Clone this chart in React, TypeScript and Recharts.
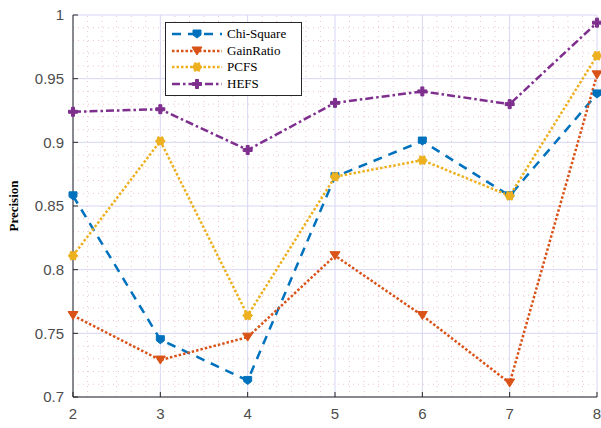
import React from 'react'
import { LineChart, Line, XAxis, YAxis, CartesianGrid, ReferenceLine } from 'recharts'

const xValues = [2, 3, 4, 5, 6, 7, 8]
const chiSquare = [0.858, 0.745, 0.713, 0.873, 0.901, 0.858, 0.938]
const gainRatio = [0.764, 0.729, 0.747, 0.811, 0.764, 0.711, 0.953]
const pcfs = [0.811, 0.901, 0.764, 0.873, 0.886, 0.858, 0.968]
const hefs = [0.924, 0.926, 0.894, 0.931, 0.94, 0.93, 0.994]

const xTicks = [2, 3, 4, 5, 6, 7, 8]
const yTicks = [0.7, 0.75, 0.8, 0.85, 0.9, 0.95, 1]
const xMinor = xTicks.slice(0, -1).flatMap((t) => [1, 2, 3, 4, 5].map((k) => t + k / 6))
const yMinor = Array.from({ length: 31 }, (_, i) => Math.round((0.7 + i * 0.01) * 100) / 100).filter(
  (v) => !yTicks.some((t) => Math.abs(t - v) < 1e-6)
)

const data = xValues.map((x, i) => ({
  x,
  chi: chiSquare[i],
  gain: gainRatio[i],
  pcfs: pcfs[i],
  hefs: hefs[i],
}))

const BLUE = '#0072BD'
const ORANGE = '#D95319'
const YELLOW = '#EDB120'
const PURPLE = '#7E2F8E'
const AXIS = '#262626'
const TICK_FONT = { fill: '#4d4d4d', fontSize: 15, fontFamily: '"Liberation Sans", Arial, sans-serif' }

type Shape = 'square' | 'tri' | 'hex' | 'plus'

function Marker({ cx, cy, color, shape }: { cx: number; cy: number; color: string; shape: Shape }) {
  if (cx == null || cy == null) return null
  if (shape === 'square') {
    return <path d={`M${cx - 4},${cy - 4}h8v5l-4,3l-4,-3z`} fill={color} stroke={color} strokeWidth={1} />
  }
  if (shape === 'tri') {
    return <path d={`M${cx - 5},${cy - 4}h10l-5,8z`} fill={color} stroke={color} strokeWidth={1} />
  }
  if (shape === 'hex') {
    const pts = Array.from({ length: 12 }, (_, i) => {
      const r = i % 2 === 0 ? 5 : 3.5
      const a = (Math.PI / 6) * i
      return `${cx + r * Math.cos(a)},${cy + r * Math.sin(a)}`
    }).join(' ')
    return <polygon points={pts} fill={color} stroke={color} strokeWidth={1} />
  }
  return (
    <path
      d={`M${cx - 1.5},${cy - 4.5}h3v3h3v3h-3v3h-3v-3h-3v-3h3z`}
      fill={color}
      stroke={color}
      strokeWidth={1}
    />
  )
}

const series = [
  { key: 'chi', name: 'Chi-Square', color: BLUE, dash: '9 7', shape: 'square' as Shape },
  { key: 'gain', name: 'GainRatio', color: ORANGE, dash: '2.5 2', shape: 'tri' as Shape },
  { key: 'pcfs', name: 'PCFS', color: YELLOW, dash: '2.5 2', shape: 'hex' as Shape },
  { key: 'hefs', name: 'HEFS', color: PURPLE, dash: '8 3 2.5 3', shape: 'plus' as Shape },
]

function LegendBox() {
  return (
    <div
      style={{
        position: 'absolute',
        left: 165,
        top: 22,
        width: 137,
        height: 74,
        background: '#fff',
        border: '1px solid #262626',
        padding: '3px 4px',
        fontFamily: '"Liberation Serif", "Times New Roman", serif',
        fontSize: 13,
        color: '#000',
        boxSizing: 'border-box',
        whiteSpace: 'nowrap',
      }}
    >
      {series.map((s) => (
        <div key={s.key} style={{ display: 'flex', alignItems: 'center', height: 16.5 }}>
          <svg width={54} height={14} style={{ marginRight: 3 }}>
            <line x1={2} y1={7} x2={52} y2={7} stroke={s.color} strokeWidth={2.5} strokeDasharray={s.dash} />
            <Marker cx={27} cy={7} color={s.color} shape={s.shape} />
          </svg>
          <span>{s.name}</span>
        </div>
      ))}
    </div>
  )
}

export default function App() {
  return (
    <div style={{ position: 'absolute', left: 0, top: 0, width: 601, height: 428, background: '#fff' }}>
      <LineChart width={601} height={428} data={data} margin={{ top: 15, right: 4, bottom: 6, left: 13 }}>
        {xMinor.map((v) => (
          <ReferenceLine key={'vx' + v} x={v} stroke="#e9b7c4" strokeOpacity={0.8} strokeDasharray="1 4" strokeWidth={1} />
        ))}
        {yMinor.map((v) => (
          <ReferenceLine key={'hy' + v} y={v} stroke="#e9b7c4" strokeOpacity={0.8} strokeDasharray="1 4" strokeWidth={1} />
        ))}
        <CartesianGrid stroke="#d6d6f5" strokeWidth={1} />
        <XAxis
          dataKey="x"
          type="number"
          domain={[2, 8]}
          ticks={xTicks}
          stroke={AXIS}
          tickSize={-5}
          tickMargin={16}
          height={25}
          tick={TICK_FONT}
        />
        <XAxis
          xAxisId="top"
          orientation="top"
          type="number"
          domain={[2, 8]}
          ticks={xTicks}
          stroke={AXIS}
          tickSize={-5}
          height={0}
          tick={false}
        />
        <YAxis
          type="number"
          domain={[0.7, 1]}
          ticks={yTicks}
          stroke={AXIS}
          tickSize={-5}
          tickMargin={14}
          width={60}
          tick={TICK_FONT}
          label={{
            value: 'Precision',
            angle: -90,
            position: 'insideLeft',
            offset: 0,
            style: {
              fontFamily: '"Liberation Serif", "Times New Roman", serif',
              fontWeight: 'bold',
              fontSize: 13,
              fill: '#000',
              textAnchor: 'middle',
            },
          }}
        />
        <YAxis
          yAxisId="right"
          orientation="right"
          type="number"
          domain={[0.7, 1]}
          ticks={yTicks}
          stroke={AXIS}
          tickSize={-5}
          width={0}
          tick={false}
        />
        {series.map((s) => (
          <Line
            key={s.key}
            dataKey={s.key}
            name={s.name}
            stroke={s.color}
            strokeWidth={2.5}
            strokeDasharray={s.dash}
            isAnimationActive={false}
            dot={(p: any) => <Marker key={s.key + p.index} cx={p.cx} cy={p.cy} color={s.color} shape={s.shape} />}
            activeDot={false}
          />
        ))}
      </LineChart>
      <LegendBox />
    </div>
  )
}
